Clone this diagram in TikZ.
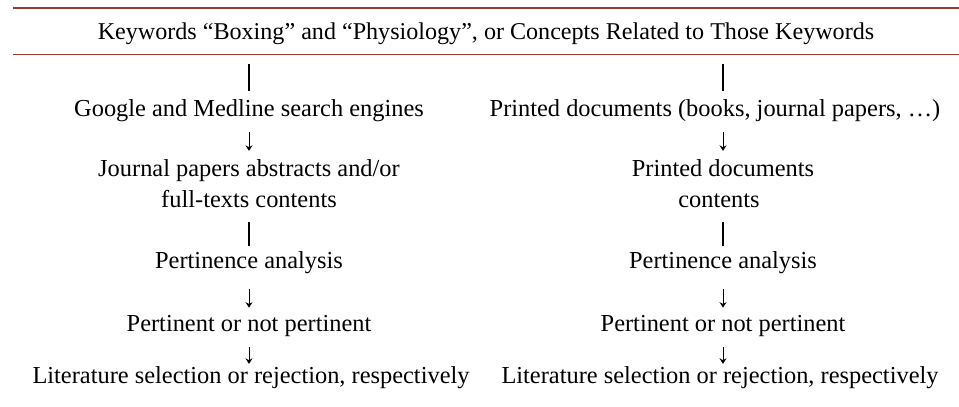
\documentclass[tikz,border=0pt]{standalone}
\usepackage{fontspec}
\setmainfont{Liberation Serif}
\usetikzlibrary{arrows.meta}
\definecolor{rulered}{HTML}{9B3A32}
\begin{document}
\begin{tikzpicture}[x=1pt,y=-1pt,
  txt/.style={font=\fontsize{24.4}{28}\selectfont, inner sep=0pt, anchor=base, align=center},
  thickrule/.style={draw=rulered, line width=2pt},
  thinrule/.style={draw=rulered, line width=1pt},
  vbar/.style={line width=1.6pt, black},
  darr/.style={line width=0.9pt, black, -{Stealth[length=5.5pt,width=7pt,inset=1.8pt]}}
]
\useasboundingbox (0,0) rectangle (959,407);
\draw[thickrule] (13,8) -- (959,8);
\draw[thinrule] (13,54) -- (959,54);

\node[txt, font=\fontsize{24.1}{28}\selectfont] (title) at (486,39) {Keywords “Boxing” and “Physiology”, or Concepts Related to Those Keywords};

% left column
\node[txt] (lg) at (249,116) {Google and Medline search engines};
\node[txt] (lj) at (249,176) {Journal papers abstracts and/or};
\node[txt] (lf) at (249,207) {full-texts contents};
\node[txt] (lp) at (249,268) {Pertinence analysis};
\node[txt] (ln) at (249,331) {Pertinent or not pertinent};
\node[txt] (ll) at (251,383) {Literature selection or rejection, respectively};

% right column
\node[txt] (rg) at (715,116) {Printed documents (books, journal papers, …)};
\node[txt] (rj) at (723,176) {Printed documents};
\node[txt] (rf) at (719,207) {contents};
\node[txt] (rp) at (723,268) {Pertinence analysis};
\node[txt] (rn) at (723,331) {Pertinent or not pertinent};
\node[txt] (rl) at (720,383) {Literature selection or rejection, respectively};

% left connectors
\draw[vbar] ([yshift=-20pt]title.south -| lg) -- ([yshift=8pt]lg.north);
\draw[darr, shorten <=11pt, shorten >=8pt] (lg) -- (lj);
\draw[vbar, shorten <=15pt, shorten >=5pt] (lf) -- (lp);
\draw[darr, shorten <=16pt, shorten >=7pt] (lp) -- (ln);
\draw[darr, shorten <=11pt, shorten >=2pt] (ln) -- (ll.north -| ln);

% right connectors
\draw[vbar] ([yshift=-20pt]title.south -| rj) -- ([yshift=8pt]rg.north -| rj);
\draw[darr, shorten >=8pt] ([yshift=-11pt]rg.south -| rj) -- (rj);
\draw[vbar, shorten <=15pt, shorten >=5pt] (rf.south -| rp) -- (rp);
\draw[darr, shorten <=16pt, shorten >=7pt] (rp) -- (rn);
\draw[darr, shorten <=11pt, shorten >=2pt] (rn) -- (rl.north -| rn);
\end{tikzpicture}
\end{document}
